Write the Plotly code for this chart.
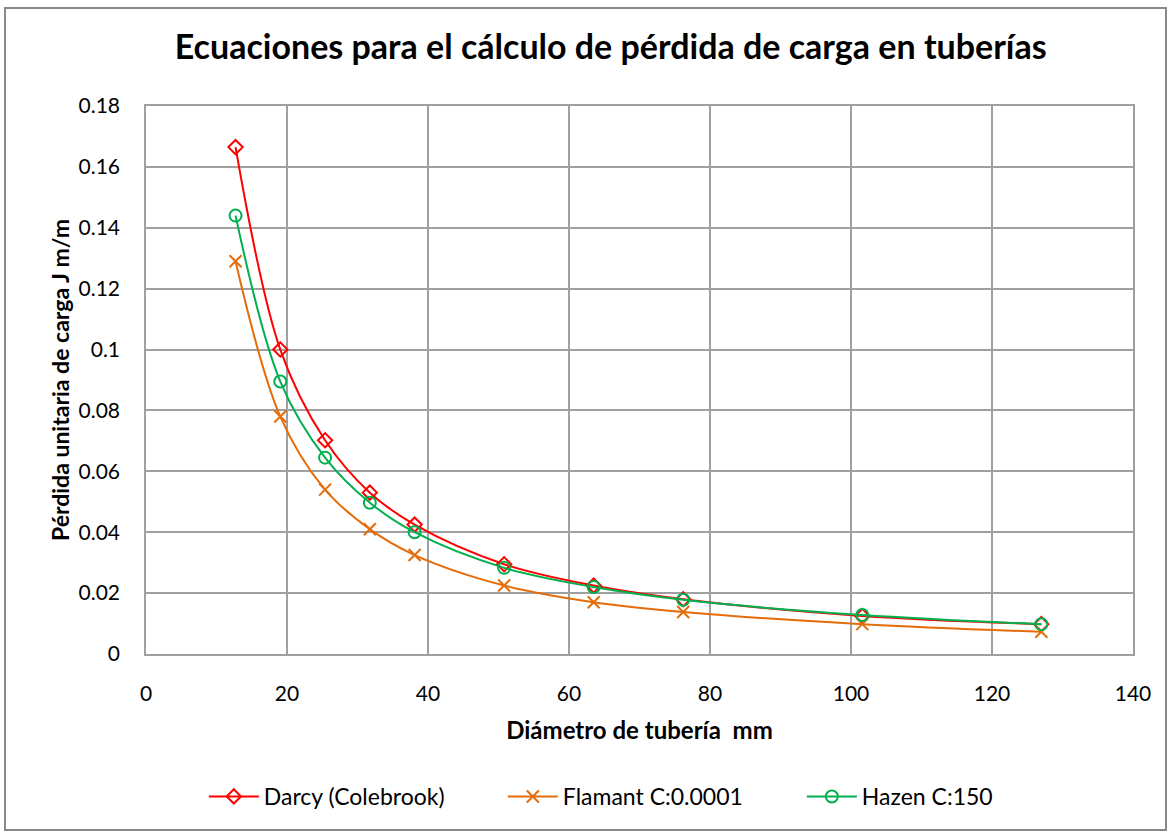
import plotly.graph_objects as go

diametro = [12.7, 19.05, 25.4, 31.75, 38.1, 50.8, 63.5, 76.2, 101.6, 127.0]
darcy = [0.1665, 0.1000, 0.0702, 0.0530, 0.0425, 0.0295, 0.0225, 0.0180, 0.0125, 0.0098]
flamant = [0.1290, 0.0780, 0.0540, 0.0410, 0.0325, 0.0225, 0.0170, 0.0138, 0.0098, 0.0073]
hazen = [0.1440, 0.0895, 0.0645, 0.0497, 0.0400, 0.0283, 0.0220, 0.0178, 0.0128, 0.0098]

FONT = "Lato"

fig = go.Figure()
fig.add_trace(go.Scatter(x=diametro, y=darcy, name="Darcy (Colebrook)", mode="lines+markers",
                         line=dict(color="#FF0000", width=2, shape="spline"),
                         marker=dict(symbol="diamond-open", size=11, color="#FF0000", line=dict(width=2))))
fig.add_trace(go.Scatter(x=diametro, y=flamant, name="Flamant C:0.0001", mode="lines+markers",
                         line=dict(color="#E46C0A", width=2, shape="spline"),
                         marker=dict(symbol="x-thin-open", size=12, color="#E46C0A", line=dict(width=2, color="#E46C0A"))))
fig.add_trace(go.Scatter(x=diametro, y=hazen, name="Hazen C:150", mode="lines+markers",
                         line=dict(color="#00B050", width=2, shape="spline"),
                         marker=dict(symbol="circle-open", size=12, color="#00B050", line=dict(width=2))))

fig.update_layout(
    width=1170, height=833,
    margin=dict(l=146, r=37, t=106, b=179),
    paper_bgcolor="white", plot_bgcolor="white",
    font=dict(family=FONT, color="#000000"),
    title=dict(text="<b>Ecuaciones para el cálculo de pérdida de carga en tuberías</b>",
               x=0.522, xanchor="center", y=0.944, yanchor="middle",
               font=dict(size=34, family=FONT)),
    legend=dict(orientation="h", x=0.513, xanchor="center", y=-0.26, yanchor="middle",
                font=dict(size=23, family=FONT), itemwidth=50,
                entrywidth=234, entrywidthmode="pixels"),
    showlegend=True,
)
fig.update_xaxes(range=[0, 140], dtick=20, showgrid=True, gridcolor="#A0A0A0", gridwidth=1.5,
                 showline=True, linecolor="#A0A0A0", linewidth=1.5, mirror=True,
                 ticks="outside", tickcolor="rgba(0,0,0,0)", ticklen=20,
                 tickfont=dict(size=21, family=FONT), zeroline=False,
                 title=dict(text="<b>Diámetro de tubería  mm</b>", font=dict(size=24, family=FONT), standoff=18))
fig.update_yaxes(range=[0, 0.18], dtick=0.02, showgrid=True, gridcolor="#A0A0A0", gridwidth=1.5,
                 showline=True, linecolor="#A0A0A0", linewidth=1.5, mirror=True,
                 ticks="outside", tickcolor="rgba(0,0,0,0)", ticklen=20, tickformat="~g",
                 tickfont=dict(size=21, family=FONT), zeroline=False,
                 title=dict(text="<b>Pérdida unitaria de carga J m/m</b>", font=dict(size=23, family=FONT), standoff=2))

fig.add_shape(type="rect", xref="paper", yref="paper",
              x0=(5 - 146) / 987, x1=(1166 - 146) / 987,
              y0=(654 - 830) / 548, y1=(654 - 8) / 548,
              line=dict(color="#888888", width=2), fillcolor="rgba(0,0,0,0)", layer="below")

fig.write_html("out.html")
